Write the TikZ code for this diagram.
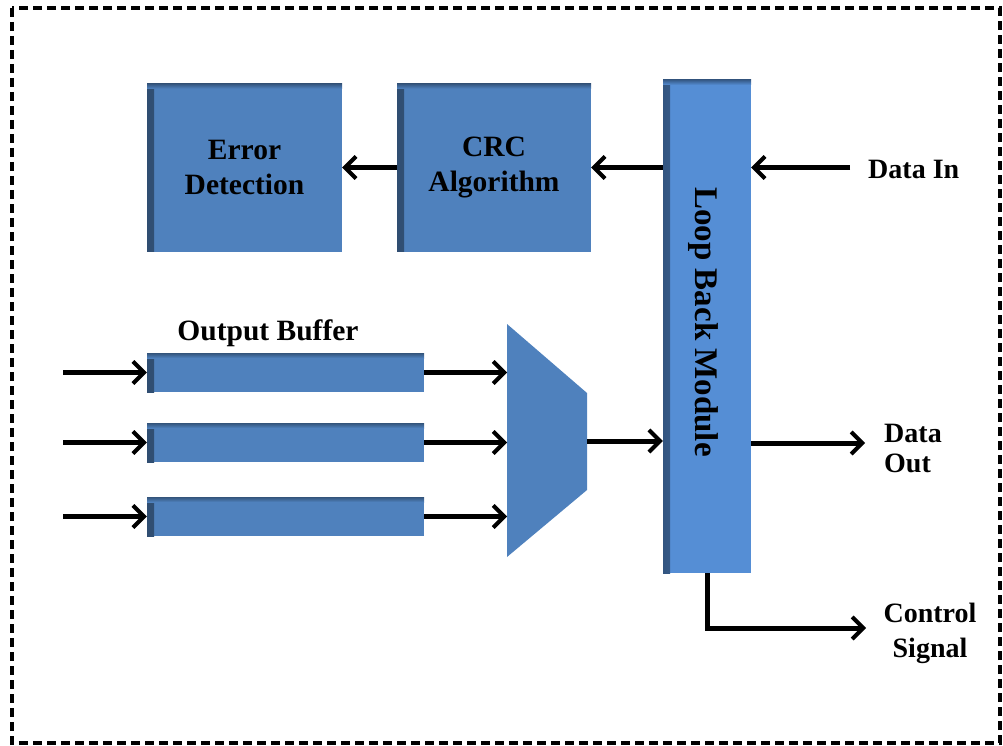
\documentclass[tikz,border=0pt]{standalone}
\usepackage{fontspec}
\setmainfont{Liberation Serif}
\usetikzlibrary{arrows.meta}
\definecolor{blkblue}{HTML}{4F81BD}
\definecolor{lbmblue}{HTML}{558ED5}
\begin{document}
\begin{tikzpicture}[x=1pt,y=-1pt,
  edge/.style={path picture={
    \shade[left color=black!40!#1,right color=#1] (path picture bounding box.north west) rectangle ([xshift=7pt]path picture bounding box.south west);
    \shade[top color=black!35!#1,bottom color=#1] (path picture bounding box.north west) rectangle ([yshift=-5pt]path picture bounding box.north east);}},
  blk/.style={fill=blkblue,edge=blkblue,inner sep=0pt,align=center,font=\fontsize{29.5}{35}\selectfont\bfseries},
  buf/.style={fill=blkblue,edge=blkblue,minimum width=277pt,minimum height=39pt,inner sep=0pt},
  arr/.style={line width=5pt,-{Straight Barb[length=11pt,width=22pt,line width=4pt]}},
  lbl/.style={font=\fontsize{28}{35}\selectfont\bfseries,inner sep=0pt}]
\useasboundingbox (0,0) rectangle (1003,746);
\draw[line width=3.5pt,dash pattern=on 9pt off 5pt] (12,8) rectangle (1000,743);

\node[blk,minimum width=195pt,minimum height=168pt] (err) at (244.5,167.5) {Error\\Detection};
\node[blk,minimum width=194pt,minimum height=168pt] (crc) at (494,167.5) {CRC\\Algorithm};
\node[fill=lbmblue,edge=lbmblue,minimum width=88pt,minimum height=493pt,inner sep=0pt] (lbm) at (707,326.5) {};
\node[lbl,font=\fontsize{33}{35}\selectfont\bfseries,rotate=-90] (lbmt) at (703,322) {Loop Back Module};

\node[lbl,anchor=west] (din) at (868,169) {Data In};
\coordinate (dinS) at (850,167.5);
\draw[arr] (dinS) -- (lbm.east |- dinS);
\draw[arr] (lbm.west |- crc.east) -- (crc.east);
\draw[arr] (crc.west) -- (err.east);

\node[lbl,font=\fontsize{29.5}{35}\selectfont\bfseries] (obl) at (268,333) {Output Buffer};
\node[buf] (b1) at (285.5,372.5) {};
\node[buf] (b2) at (285.5,442.5) {};
\node[buf] (b3) at (285.5,516.5) {};

\fill[blkblue] (507,324) -- (587,393) -- (587,490) -- (507,557) -- cycle;
\coordinate (src) at (63,0);
\coordinate (muxin) at (507,0);
\coordinate (muxout) at (587,441);
\foreach \b in {b1,b2,b3}{
  \draw[arr] (\b.west -| src) -- (\b.west);
  \draw[arr] (\b.east) -- (\b.east -| muxin);
}
\draw[arr] (muxout) -- (lbm.west |- muxout);

\coordinate (dout) at (865,443);
\draw[arr] (lbm.east |- dout) -- (dout);
\node[lbl,font=\fontsize{28}{30}\selectfont\bfseries,align=left,anchor=north west] (doutl) at (884,424) {Data\\Out};

\coordinate (ctl) at (866,628);
\draw[arr] (lbm.south) |- (ctl);
\node[lbl,align=center] (ctll) at (930,633) {Control\\Signal};
\end{tikzpicture}
\end{document}
